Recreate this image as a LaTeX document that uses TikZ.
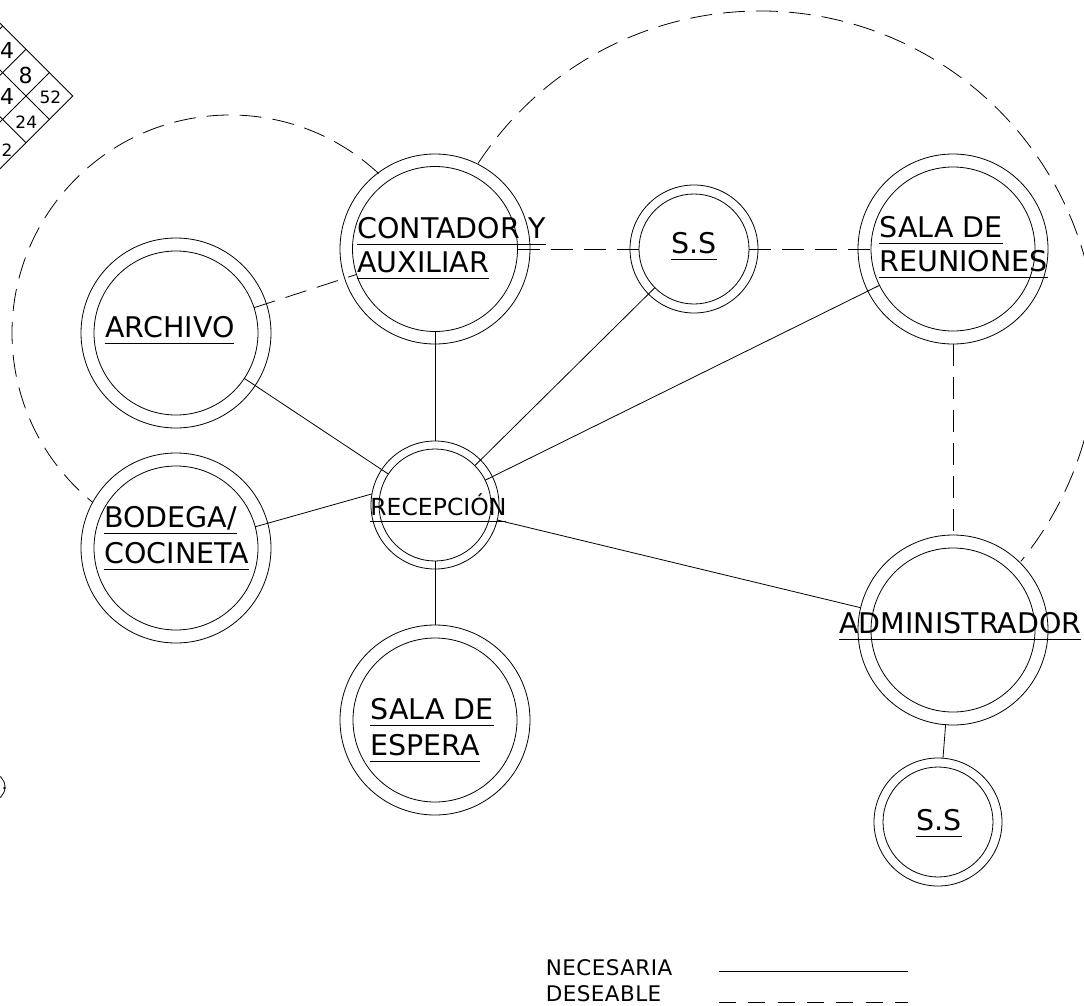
\documentclass[tikz,border=0pt]{standalone}
\usepackage{fontspec}
\setmainfont{DejaVu Sans}
\usetikzlibrary{calc}
\newsavebox\ulbox
\newcommand\ulin[1]{\sbox\ulbox{#1}\rlap{\rule[-6.5pt]{\wd\ulbox}{0.9pt}}\usebox\ulbox}
\begin{document}
\begin{tikzpicture}[x=1pt,y=-1pt, line width=0.8pt,
  ring/.style={circle, draw, inner sep=0pt, outer sep=0pt, minimum size=#1},
  lbl/.style={anchor=base west, inner sep=0pt, align=left, font=\fontsize{28.5}{35}\selectfont},
  des/.style={draw, dash pattern=on 22pt off 11pt},
  gridtxt/.style={inner sep=0pt, font=\fontsize{22}{24}\selectfont},
  gridsm/.style={inner sep=0pt, font=\fontsize{17}{20}\selectfont},
  leg/.style={anchor=base west, inner sep=0pt, font=\fontsize{21.5}{24}\selectfont\addfontfeature{LetterSpace=2}}]
\fill[white] (0,0) rectangle (1084,1006);
\useasboundingbox (0,0) rectangle (1084,1006);

% corner grid (partial)
\draw (-5,18.3) -- (72.7,96) -- (-5,173.7);
\draw (-5,65) -- (49.3,119.3);
\draw (-5,111.7) -- (26,142.7);
\draw (-5,127) -- (49.3,72.7);
\draw (-5,80.3) -- (26,49.3);
\draw (-5,33.7) -- (2.7,26);
\node[gridtxt] (g1) at (7,50) {4};
\node[gridtxt] (g2) at (25.6,75) {8};
\node[gridtxt] (g3) at (7,96.5) {4};
\node[gridsm] (g4) at (50.5,97.5) {52};
\node[gridsm] (g5) at (26.3,121.7) {24};
\node[gridsm] (g6) at (7,150) {2};

% partial symbol at left edge
\draw (-9,787) circle[radius=14];
\fill (4.5,788) circle[radius=1.4];

% rooms: outer and inner circles
\node[ring=190pt] (contO) at (435,249) {};
\node[ring=165pt] (cont)  at (435,249) {};
\node[ring=128pt] (ssaO)  at (694,249) {};
\node[ring=110pt] (ssa)   at (694,249) {};
\node[ring=190pt] (srO)   at (953,249) {};
\node[ring=164pt] (sr)    at (953,249) {};
\node[ring=190pt] (arcO)  at (176,333) {};
\node[ring=164pt] (arc)   at (176,333) {};
\node[ring=190pt] (bodO)  at (176,548) {};
\node[ring=164pt] (bod)   at (176,548) {};
\node[ring=128pt] (recO)  at (435,505) {};
\node[ring=112pt] (rec)   at (435,505) {};
\node[ring=190pt] (espO)  at (435,720) {};
\node[ring=164pt] (esp)   at (435,720) {};
\node[ring=190pt] (admO)  at (953,630) {};
\node[ring=164pt] (adm)   at (953,630) {};
\node[ring=128pt] (ssbO)  at (938,822) {};
\node[ring=110pt] (ssb)   at (938,822) {};

% labels (anchor = baseline of last line)
\node[lbl] (tcont) at (357,272) {\ulin{CONTADOR Y}\\[-1pt]\ulin{AUXILIAR}};
\node[lbl] (tssa) at (671,253) {\ulin{S.S}};
\node[lbl] (tsr) at (879,271) {\ulin{SALA DE}\\[-1pt]\ulin{REUNIONES}};
\node[lbl] (tarc) at (105,337) {\ulin{ARCHIVO}};
\node[lbl] (tbod) at (104,563) {\ulin{BODEGA/}\\[1pt]\ulin{COCINETA}};
\node[lbl, font=\fontsize{23.5}{28}\selectfont] (trec) at (370,515) {\ulin{RECEPCIÓN}};
\node[lbl] (tesp) at (370,755) {\ulin{SALA DE}\\[1pt]\ulin{ESPERA}};
\node[lbl] (tadm) at (839,633) {\ulin{ADMINISTRADOR}};
\node[lbl] (tssb) at (916,830) {\ulin{S.S}};

% necessary connections
\draw (cont) -- (recO);
\draw (arc) -- (rec);
\draw (ssa) -- (rec);
\draw (sr) -- (rec);
\draw (bod.15) -- (recO.170);
\draw (rec) -- (espO);
\draw (recO) -- (admO);
\draw (admO) -- (ssbO);

% desirable connections
\draw[des] (arc) -- (cont);
\draw[des] (cont) -- (ssa);
\draw[des] (ssa) -- (sr);
\draw[des] (srO) -- (admO);
\coordinate (lcA) at ($(230,333)+(-47:218)$);
\draw[des] (lcA) arc[start angle=-47, end angle=-231, radius=218];
\coordinate (rcA) at ($(760,348)+(-146.8:337)$);
\draw[des] (rcA) arc[start angle=-146.8, end angle=39.3, radius=337];

% legend
\node[leg] (lnec) at (545.5,975) {NECESARIA};
\node[leg] (ldes) at (545.5,1001.7) {DESEABLE};
\coordinate (n1) at (719,971.7);
\coordinate (n2) at (908,971.7);
\draw (n1) -- (n2);
\coordinate (d1) at (719,1002);
\coordinate (d2) at (908,1002);
\draw[dash pattern=on 17pt off 12.3pt] (d1) -- (d2);
\end{tikzpicture}
\end{document}
